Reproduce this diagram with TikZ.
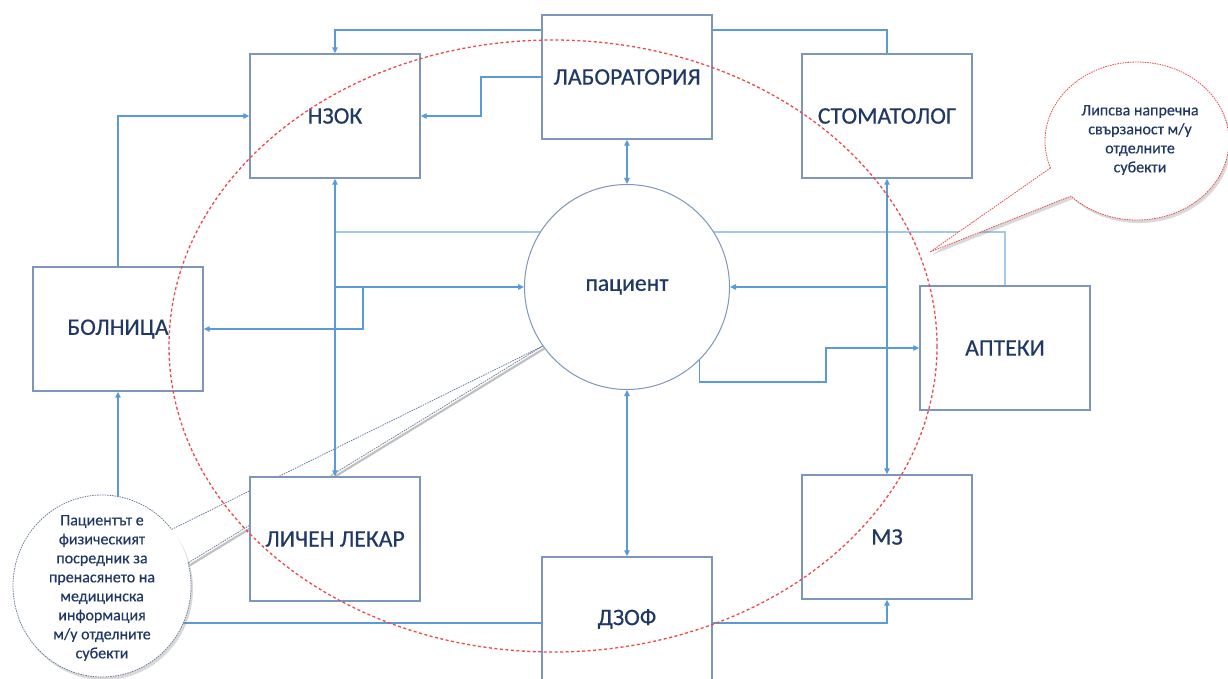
\documentclass[tikz,border=0pt]{standalone}
\usepackage{fontspec}
\setmainfont{Carlito}
\newfontfamily\heavyfont{Carlito}[FakeBold=0.4]
\usetikzlibrary{arrows.meta,shadows,backgrounds}
\definecolor{txt}{RGB}{31,56,100}
\definecolor{connc}{RGB}{91,155,213}
\definecolor{boxc}{RGB}{125,150,185}
\definecolor{redc}{RGB}{238,72,72}
\definecolor{calc}{RGB}{105,125,155}
\begin{document}
\begin{tikzpicture}[x=1pt,y=-1pt,
  >={Triangle[length=6pt,width=5.5pt]},
  box/.style={draw=boxc, line width=1.4pt, fill=white, minimum width=170pt,
    minimum height=124pt, inner sep=0pt, text=txt, font=\heavyfont\fontsize{23.7}{26}\selectfont},
  pnode/.style={circle, draw=boxc, line width=1pt, fill=white, minimum size=205pt,
    inner sep=0pt, text=txt, font=\heavyfont\fontsize{23.7}{26}\selectfont},
  cline/.style={draw=connc, line width=1.2pt},
  wide/.style={draw=connc!55, line width=2.8pt},
  ring/.style={draw=redc, line width=1.3pt, dash pattern=on 3pt off 2.5pt},
  callout/.style={line width=0.8pt, dash pattern=on 1.5pt off 1pt},
  cshadow/.style={drop shadow={shadow xshift=2pt, shadow yshift=-3pt, opacity=0.3}},
  wedgeshadow/.style={draw=black!55, opacity=0.45, line width=2.2pt},
  calltext/.style={align=center, text=txt, inner sep=0pt, font=\heavyfont\fontsize{16}{19}\selectfont}
]
\useasboundingbox (0,0) rectangle (1228,679);

% nodes
\node[box] (nzok) at (335,116) {НЗОК};
\node[box] (lab) at (627,77) {ЛАБОРАТОРИЯ};
\node[box] (stom) at (887,116) {СТОМАТОЛОГ};
\node[box] (boln) at (118,329) {БОЛНИЦА};
\node[box] (apt) at (1005,348) {АПТЕКИ};
\node[box] (lek) at (335,539) {ЛИЧЕН ЛЕКАР};
\node[box] (dzof) at (627,619) {ДЗОФ};
\node[box] (mz) at (887,537) {МЗ};
\node[pnode] (pac) at (627,287) {пациент};

\coordinate (jb) at (363,287);
\coordinate (jl) at (481,77);
\coordinate (ja) at (826,382);
\coordinate (la) at (171.7,529.4);
\coordinate (lb) at (188.1,562.9);

\begin{pgfonlayer}{background}
% left callout pointer (behind everything)
\draw[wedgeshadow] ([shift={(1.5,2.5)}]pac.215) -- ([shift={(1.5,2.5)}]lb);
\draw[callout, draw=calc] (la) -- (pac.215) -- (lb);
% connectors
\draw[wide] (nzok.south |- 0,232) -| (apt.north);
\draw[cline,->] (lab.west |- 0,30) -| (nzok.north);
\draw[cline] (lab.east |- 0,30) -| (stom.north);
\draw[cline,->] (lab.west) -- (jl) |- (nzok.east);
\draw[cline,<->] (lab.south) -- (pac.north);
\draw[cline,<->] (pac.south) -- (dzof.north);
\draw[cline,->] (boln.north) |- (nzok.west);
\draw[cline,->] (dzof.west |- 0,623) -| (boln.south);
\draw[cline,->] (dzof.east |- 0,623) -| (mz.south);
\draw[cline,<->] (nzok.south) -- (lek.north);
\draw[cline,->] (nzok.south |- pac.west) -- (pac.west);
\draw[cline,->] (jb) |- (boln.east);
\draw[cline,<->] (stom.south) -- (mz.north);
\draw[cline,->] (stom.south |- pac.east) -- (pac.east);
\draw[cline,->] (pac.-45) |- (ja) |- (apt.west);
\end{pgfonlayer}

% red ellipse
\draw[ring] (553,346) ellipse[x radius=384, y radius=306];

% left callout body
\path[fill=white, cshadow] (102,586) ellipse[x radius=89, y radius=91];
\draw[callout, draw=calc] (lb) arc[start angle=-14.7, end angle=321.5, x radius=89, y radius=91];
\node[calltext] (cl) at (102,588) {Пациентът е\\физическият\\посредник за\\пренасянето на\\медицинска\\информация\\м/у отделните\\субекти};

% right callout
\coordinate (tipR) at (930,252);
\path[callout, draw=redc, fill=white, cshadow] (1050.5,167.9) -- (tipR) -- (1071,196.1)
  arc[start angle=135.8, end angle=-199.9, x radius=92, y radius=79] -- cycle;
\node[calltext] (cr) at (1140,140) {Липсва напречна\\свързаност м/у\\отделните\\субекти};
\end{tikzpicture}
\end{document}
